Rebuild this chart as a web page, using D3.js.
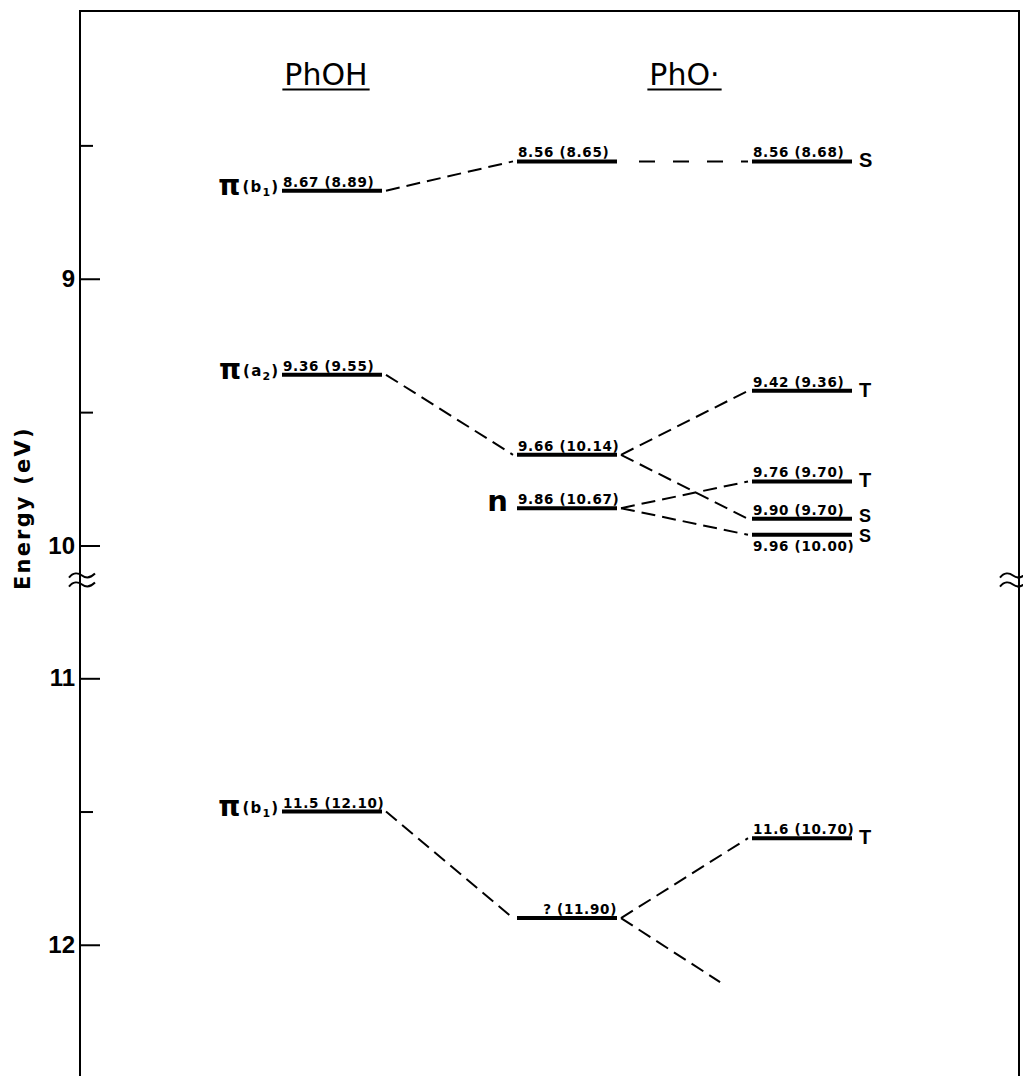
<!DOCTYPE html>
<html>
<head>
<meta charset="utf-8">
<script src="https://cdn.jsdelivr.net/npm/d3@7"></script>
<style>
  body { margin: 0; background: #fff; }
  svg { display: block; }
</style>
</head>
<body>
<div id="chart"></div>
<script>
// columns of the correlation diagram
const columns = ["PhOH", "PhO", "PhOstates"];
const headings = ["PhOH", "PhO·"];

// levels: energy (eV), label text, orbital symbol, state multiplicity
const phohLevels = [
  { e: 8.67, label: "8.67 (8.89)", orb: ["π", "b", "1"] },
  { e: 9.36, label: "9.36 (9.55)", orb: ["π", "a", "2"] },
  { e: 11.5, label: "11.5 (12.10)", orb: ["π", "b", "1"] }
];
const phoLevels = [
  { e: 8.56, label: "8.56 (8.65)" },
  { e: 9.66, label: "9.66 (10.14)" },
  { e: 9.86, label: "9.86 (10.67)", orb: ["n"] },
  { e: 11.90, label: "? (11.90)" }
];
const stateLevels = [
  { e: 8.56, label: "8.56 (8.68)", sym: "S" },
  { e: 9.42, label: "9.42 (9.36)", sym: "T" },
  { e: 9.76, label: "9.76 (9.70)", sym: "T" },
  { e: 9.90, label: "9.90 (9.70)", sym: "S" },
  { e: 9.96, label: "9.96 (10.00)", sym: "S" },
  { e: 11.6, label: "11.6 (10.70)", sym: "T" }
];
const columnLevels = [phohLevels, phoLevels, stateLevels];

// dashed correlation lines, "column:index"
const links = [
  ["0:0", "1:0"], ["1:0", "2:0"],
  ["0:1", "1:1"], ["1:1", "2:1"], ["1:1", "2:3"],
  ["1:2", "2:2"], ["1:2", "2:4"],
  ["0:2", "1:3"], ["1:3", "2:5"]
];
// open-ended line going off below ? (11.90): end energy, share of the gap
const openLinks = [{ from: "1:3", e: 12.14, part: 0.78 }];

const majorTicks = [9, 10, 11, 12];
const minorTicks = [8.5, 9.5, 11.5];
const breakAt = 10.26;

const W = 1023, H = 1076;
const frame = { left: 80, right: 1019, top: 11 };
const halfW = 50, gap = 4;

const svg = d3.select("#chart").append("svg")
  .attr("width", W).attr("height", H);

// broken energy axis: 10 -> 11 is compressed
const y = d3.scaleLinear()
  .domain([8, 10, 11, 12.5])
  .range([12, 545.5, 678.3, 1078]);
const x = d3.scalePoint().domain(columns).range([332, 802]);

const smallFont = "'DejaVu Sans', sans-serif";
const numFont = "'Liberation Sans', Arial, sans-serif";

// frame
svg.append("path")
  .attr("d", `M${frame.left},${H}V${frame.top}H${frame.right}V${H}`)
  .attr("fill", "none").attr("stroke", "#000").attr("stroke-width", 2);

// y axis, ticks pointing inward
svg.append("g")
  .attr("transform", `translate(${frame.left},0)`)
  .call(d3.axisLeft(y).tickValues(majorTicks).tickSize(-20).tickPadding(5).tickFormat(d3.format("d")))
  .call(g => g.select(".domain").remove())
  .call(g => g.selectAll(".tick line").attr("stroke", "#000").attr("stroke-width", 2))
  .call(g => g.selectAll(".tick text")
    .attr("fill", "#000")
    .attr("font-family", numFont)
    .attr("font-weight", "bold")
    .attr("font-size", 24));

svg.append("g")
  .attr("transform", `translate(${frame.left},0)`)
  .call(d3.axisLeft(y).tickValues(minorTicks).tickSize(-13).tickFormat(""))
  .call(g => g.select(".domain").remove())
  .call(g => g.selectAll(".tick line").attr("stroke", "#000").attr("stroke-width", 2));

// axis title
svg.append("text")
  .attr("transform", `translate(30,${y(9.86)}) rotate(-90)`)
  .attr("text-anchor", "middle")
  .attr("font-family", smallFont)
  .attr("font-weight", "bold")
  .attr("font-size", 21)
  .attr("letter-spacing", 2.2)
  .text("Energy (eV)");

// break marks on both sides
const squiggle = "M-12,2 C-8,-3 -3,-3 1,0 S9,3 14,-2";
[frame.left + 1, frame.right - 7].forEach(bx => {
  [-4.5, 4.5].forEach(off => {
    svg.append("path")
      .attr("d", squiggle)
      .attr("transform", `translate(${bx},${y(breakAt) + off})`)
      .attr("fill", "none").attr("stroke", "#000").attr("stroke-width", 2);
  });
});

// headings
const headX = [x(columns[0]) - 6, (x(columns[1]) + x(columns[2])) / 2];
headings.forEach((h, i) => {
  const t = svg.append("text")
    .attr("x", headX[i]).attr("y", 85)
    .attr("text-anchor", "middle")
    .attr("font-family", smallFont)
    .attr("font-size", 30)
    .text(h);
  const bb = t.node().getBBox();
  svg.append("line")
    .attr("x1", bb.x - 2).attr("x2", bb.x + bb.width + 2)
    .attr("y1", 89.5).attr("y2", 89.5)
    .attr("stroke", "#000").attr("stroke-width", 2);
});

function levelPos(id) {
  const [c, i] = id.split(":").map(Number);
  return { cx: x(columns[c]), cy: y(columnLevels[c][i].e) };
}

// correlation lines
links.forEach(([a, b]) => {
  const p = levelPos(a), q = levelPos(b);
  const flat = Math.abs(p.cy - q.cy) < 1;
  svg.append("line")
    .attr("x1", p.cx + halfW + gap).attr("y1", p.cy)
    .attr("x2", q.cx - halfW - gap).attr("y2", q.cy)
    .attr("stroke", "#000").attr("stroke-width", 2)
    .attr("stroke-dasharray", flat ? "16,18" : "14,7")
    .attr("stroke-dashoffset", flat ? 16 : 0);
});
openLinks.forEach(d => {
  const p = levelPos(d.from);
  const c = +d.from.split(":")[0];
  const x1 = p.cx + halfW + gap, x2 = x(columns[c + 1]) - halfW - gap;
  svg.append("line")
    .attr("x1", x1).attr("y1", p.cy)
    .attr("x2", x1 + d.part * (x2 - x1)).attr("y2", y(d.e))
    .attr("stroke", "#000").attr("stroke-width", 2)
    .attr("stroke-dasharray", "14,7");
});

// levels
columnLevels.forEach((levels, c) => {
  const cx = x(columns[c]);
  const g = svg.append("g");
  levels.forEach((d, i) => {
    const ly = y(d.e);
    const left = cx - halfW, right = cx + halfW;
    g.append("line")
      .attr("x1", left).attr("x2", right)
      .attr("y1", ly).attr("y2", ly)
      .attr("stroke", "#000").attr("stroke-width", 4);

    // label below the line when crowded by the level above it
    const below = i > 0 && d.e - levels[i - 1].e < 0.08;
    const crowdedNext = i < levels.length - 1 && levels[i + 1].e - d.e < 0.08;
    const unknown = d.label.startsWith("?");
    g.append("text")
      .attr("x", unknown ? right : left + 1)
      .attr("y", below ? ly + 16 : ly - 4)
      .attr("text-anchor", unknown ? "end" : "start")
      .attr("font-family", smallFont)
      .attr("font-weight", "bold")
      .attr("font-size", 13.5)
      .attr("letter-spacing", 0.7)
      .text(d.label);

    if (d.sym) {
      g.append("text")
        .attr("x", right + 7)
        .attr("y", ly + (crowdedNext ? 3 : below ? 7 : 6))
        .attr("font-family", numFont)
        .attr("font-weight", "bold")
        .attr("font-size", (crowdedNext || below) ? 18 : 20)
        .text(d.sym);
    }

    if (d.orb) {
      const t = g.append("text")
        .attr("text-anchor", "end")
        .attr("font-family", smallFont)
        .attr("font-weight", "bold");
      if (d.orb.length === 1) {
        t.attr("x", left - 9).attr("y", ly + 3)
          .attr("font-size", 29)
          .text(d.orb[0]);
      } else {
        t.attr("x", left - 4).attr("y", ly + 4);
        t.append("tspan").attr("font-size", 28).text(d.orb[0]);
        t.append("tspan").attr("font-size", 15).attr("dx", 2).attr("dy", -3)
          .attr("letter-spacing", 1.2).text("(" + d.orb[1]);
        t.append("tspan").attr("font-size", 11).attr("dy", 4).text(d.orb[2]);
        t.append("tspan").attr("font-size", 15).attr("dy", -4).attr("dx", 1).text(")");
      }
    }
  });
});
</script>
</body>
</html>
